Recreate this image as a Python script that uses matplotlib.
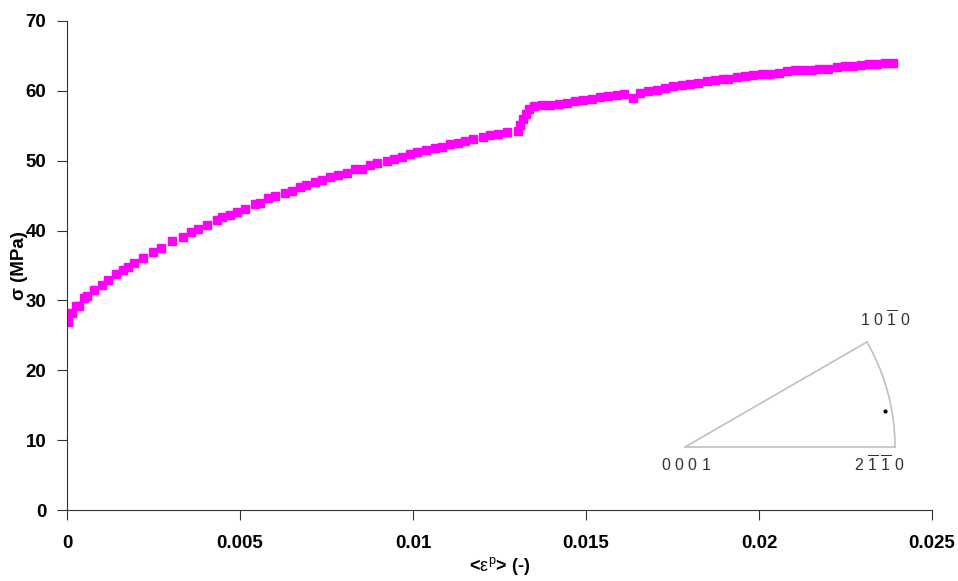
import numpy as np
import matplotlib
matplotlib.use('Agg')
import matplotlib.pyplot as plt

plt.rcParams['font.family'] = ['Liberation Sans', 'DejaVu Sans']
plt.rcParams['mathtext.fontset'] = 'custom'
plt.rcParams['mathtext.rm'] = 'Liberation Sans'
plt.rcParams['mathtext.it'] = 'Liberation Sans'
plt.rcParams['mathtext.bf'] = 'Liberation Sans:bold'

# plastic strain <eps^p> (-)
strain = [0.00002, 0.000136, 0.000251, 0.000347, 0.0005, 0.000587, 0.000789, 0.001003,
          0.001194, 0.001416, 0.001627, 0.001754, 0.001945, 0.002205, 0.002477, 0.002717,
          0.003043, 0.003344, 0.003584, 0.003795, 0.004037, 0.004326, 0.004471, 0.004711,
          0.004904, 0.005145, 0.005434, 0.005578, 0.005818, 0.006012, 0.0063, 0.006494,
          0.006734, 0.006908, 0.007168, 0.007361, 0.007601, 0.007841, 0.008084, 0.008324,
          0.008517, 0.008757, 0.008968, 0.00924, 0.00946, 0.009673, 0.009913, 0.010107,
          0.010376, 0.010636, 0.010829, 0.011069, 0.011309, 0.011503, 0.011743, 0.012014,
          0.012225, 0.012465, 0.012708, 0.013043, 0.013101, 0.013171, 0.013266, 0.013361,
          0.013483, 0.01372, 0.01396, 0.014229, 0.014443, 0.014682, 0.014922, 0.015165,
          0.015405, 0.015645, 0.015888, 0.016098, 0.016358, 0.01656, 0.0168, 0.017043,
          0.017283, 0.017523, 0.017766, 0.018006, 0.018237, 0.018488, 0.018728, 0.01896,
          0.019113, 0.019356, 0.019595, 0.019835, 0.020078, 0.020318, 0.020587, 0.0208,
          0.02104, 0.02128, 0.021523, 0.021743, 0.021986, 0.022246, 0.022486, 0.022708,
          0.022948, 0.023188, 0.02342, 0.023642, 0.023865]

# stress sigma (MPa)
stress = [26.94, 28.14, 29.18, 29.23, 30.29, 30.66, 31.47, 32.19,
          32.90, 33.72, 34.33, 34.72, 35.29, 36.09, 36.87, 37.53,
          38.48, 39.10, 39.81, 40.16, 40.77, 41.49, 41.87, 42.20,
          42.59, 43.06, 43.73, 43.96, 44.59, 44.92, 45.31, 45.64,
          46.21, 46.49, 46.97, 47.21, 47.68, 47.93, 48.25, 48.74,
          48.88, 49.36, 49.60, 49.93, 50.31, 50.54, 50.93, 51.26,
          51.50, 51.75, 51.97, 52.32, 52.60, 52.83, 53.08, 53.40,
          53.65, 53.89, 54.12, 54.29, 55.08, 55.94, 56.72, 57.47,
          57.87, 58.01, 58.04, 58.18, 58.33, 58.51, 58.66, 58.84,
          59.08, 59.26, 59.44, 59.61, 59.01, 59.66, 59.94, 60.19,
          60.44, 60.63, 60.80, 61.04, 61.19, 61.37, 61.59, 61.73,
          61.76, 61.99, 62.09, 62.23, 62.37, 62.48, 62.62, 62.80,
          62.95, 63.05, 63.05, 63.19, 63.19, 63.42, 63.52, 63.62,
          63.66, 63.81, 63.91, 63.99, 63.99]

# grain orientation in the standard triangle (polar: radius, angle in deg)
orient_r = 0.966
orient_ang = 10.2

fig = plt.figure(figsize=(9.58, 5.81), dpi=100)
ax = fig.add_axes([0.0699, 0.1222, 0.903, 0.8417])

ax.plot(strain, stress, linestyle='none', marker='s', markersize=6,
        color='#ff00ff', markeredgecolor='#ff00ff')

ax.set_xlim(0, 0.025)
ax.set_ylim(0, 70)
ax.set_xticks([0, 0.005, 0.01, 0.015, 0.02, 0.025])
ax.set_xticklabels(['0', '0.005', '0.01', '0.015', '0.02', '0.025'])
ax.set_yticks(np.arange(0, 71, 10))
for s in ['top', 'right']:
    ax.spines[s].set_visible(False)
for s in ['left', 'bottom']:
    ax.spines[s].set_color('#333333')
ax.tick_params(axis='x', direction='out', length=7, pad=11, labelsize=13.5, color='#333333')
ax.tick_params(axis='y', direction='out', length=7, pad=8, labelsize=13.5, color='#333333')
for lbl in ax.get_xticklabels() + ax.get_yticklabels():
    lbl.set_fontweight('bold')

ax.set_xlabel(r'<$\epsilon^{\mathrm{p}}$> (-)', fontsize=13, fontweight='bold', labelpad=2)
ax.set_ylabel(u'\u03c3 (MPa)', fontsize=13.5, fontweight='bold')
ax.yaxis.set_label_coords(-0.045, 0.5)

# inverse pole figure standard triangle
ins = fig.add_axes([685 / 958, (581 - 447) / 581, 210 / 958, 105 / 581])
ins.set_xlim(0, 1)
ins.set_ylim(0, 0.5)
ins.axis('off')
t = np.radians(np.linspace(0, 30, 60))
ins.plot(np.cos(t), np.sin(t), color='#c0c0c0', lw=1.2, clip_on=False)
ins.plot([0, 1], [0, 0], color='#c0c0c0', lw=1.2, clip_on=False)
ins.plot([0, np.cos(np.radians(30))], [0, np.sin(np.radians(30))], color='#c0c0c0', lw=1.2, clip_on=False)
a = np.radians(orient_ang)
ins.plot(orient_r * np.cos(a), orient_r * np.sin(a), marker='o', markersize=2, color='black')

lab_kw = dict(fontsize=11.5, color='#333333', ha='center', va='center')
ins.text(0.005, -0.085, r'$0\ 0\ 0\ 1$', **lab_kw)
ins.text(0.925, -0.085, r'$2\ \overline{1}\ \overline{1}\ 0$', **lab_kw)
ins.text(0.955, 0.605, r'$1\ 0\ \overline{1}\ 0$', **lab_kw)

fig.savefig('out.png', dpi=100)
